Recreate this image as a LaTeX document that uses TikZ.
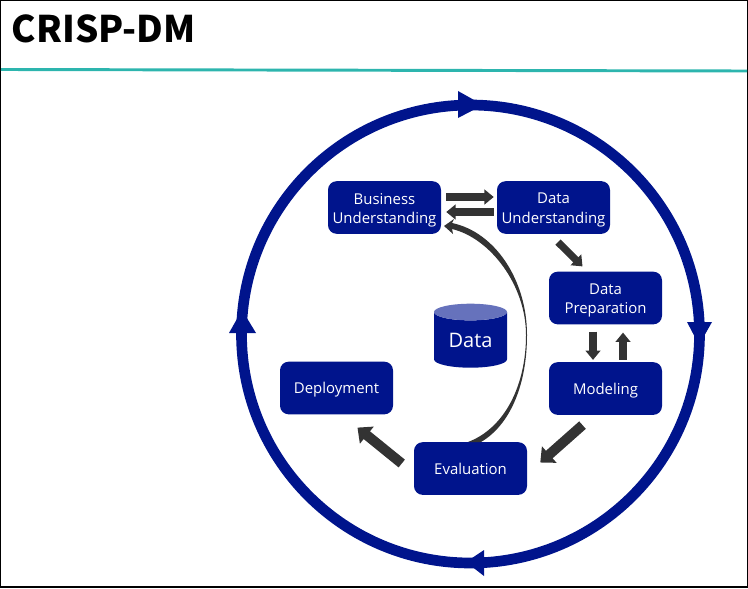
\documentclass[tikz,border=0pt]{standalone}
\usepackage{fontspec}
\setmainfont{Open Sans}
\newfontfamily\titlefont{Noto Sans CJK JP}
\usetikzlibrary{arrows.meta,shapes.geometric}
\definecolor{navy}{HTML}{00148C}
\definecolor{navytop}{HTML}{6672BC}
\definecolor{arrowgray}{HTML}{333333}
\definecolor{tealline}{HTML}{2DB5AE}
\newcommand{\lowline}[1]{\raisebox{-2pt}[\height][\depth]{#1}}
\tikzset{
  phase/.style={draw=none,fill=navy,text=white,rounded corners=6.5pt,minimum width=84.75pt,minimum height=39.5pt,inner sep=0pt,align=center,font=\fontsize{11.2}{14.6}\selectfont,execute at begin node={\rule[-2.8pt]{0pt}{14.5pt}}},
  flow/.style={arrowgray,line width=5.5pt,-{Triangle[width=11pt,length=7pt]}},
  bigflow/.style={arrowgray,line width=7.5pt,-{Triangle[width=16pt,length=9pt]}},
}
\begin{document}
\begin{tikzpicture}[x=0.75pt,y=-0.75pt]
        \useasboundingbox (0,0) rectangle (748,588);
        % Frame and title
        \draw[line width=1pt] (0.5,0.5) rectangle (747.5,587);
        \node[anchor=west,inner sep=0pt,font=\titlefont\bfseries\fontsize{27.5}{30}\selectfont] (title) at (11.5,29) {CRISP-DM};
        \draw[tealline,line width=2.2pt] (1,69.5) -- (747,71);

        % Outer cycle
        \draw[navy,line width=8pt] (470.5,334) circle (229);
        \fill[navy] (458,91) -- (483,105) -- (458,118) -- cycle;
        \fill[navy] (687,322) -- (699,345) -- (712,322) -- cycle;
        \fill[navy] (229,333) -- (242,310) -- (256,333) -- cycle;
        \fill[navy] (484,550) -- (466,562) -- (484,576) -- cycle;

        % Phases
        \node[phase] (bu) at (384.5,207.5) {\lowline{Business}\\\lowline{Understanding}};
        \node[phase] (du) at (553.5,207.5) {\lowline{Data}\\\lowline{Understanding}};
        \node[phase] (dp) at (605.5,298) {\lowline{Data}\\\lowline{Preparation}};
        \node[phase] (mo) at (605.5,388.5) {Modeling};
        \node[phase] (ev) at (470.5,468.5) {Evaluation};
        \node[phase] (de) at (336.5,388) {Deployment};
        \node[cylinder,shape border rotate=90,aspect=0.38,minimum width=54.75pt,minimum height=48pt,inner sep=0pt,cylinder uses custom fill,cylinder body fill=navy,cylinder end fill=navytop,draw=none,text=white,font=\fontsize{15}{18}\selectfont] (data) at (470.5,340) {Data};

        % Flow between phases
        \draw[flow] ([shift={(5,-10.5)}]bu.east) -- ([shift={(-3,-10.5)}]du.west);
        \draw[flow] ([shift={(-3,4.5)}]du.west) -- ([shift={(5,4.5)}]bu.east);
        \draw[flow] ([shift={(4.5,8)}]du.south) -- ([shift={(-23,-5)}]dp.north);
        \draw[flow] ([shift={(-12.5,7)}]dp.south) -- ([shift={(-12.5,-2)}]mo.north);
        \draw[flow] ([shift={(17.5,-2)}]mo.north) -- ([shift={(17.5,8)}]dp.south);
        \draw[bigflow] ([shift={(-23,10)}]mo.south) -- ([shift={(13,-6)}]ev.east);
        \draw[bigflow] ([shift={(-12,-5)}]ev.west) -- ([shift={(21,13)}]de.south);

        % Loop from evaluation back to business understanding
        \fill[arrowgray] (481,442) .. controls (510,425) and (527,385) .. (527,335) .. controls (527,280) and (495,232) .. (452,223) -- (454,219) -- (444,226) -- (453,234) -- (452,229) .. controls (490,238) and (526,285) .. (526,335) .. controls (526,385) and (505,428) .. (468,442) -- cycle;
        \end{tikzpicture}
\end{document}
